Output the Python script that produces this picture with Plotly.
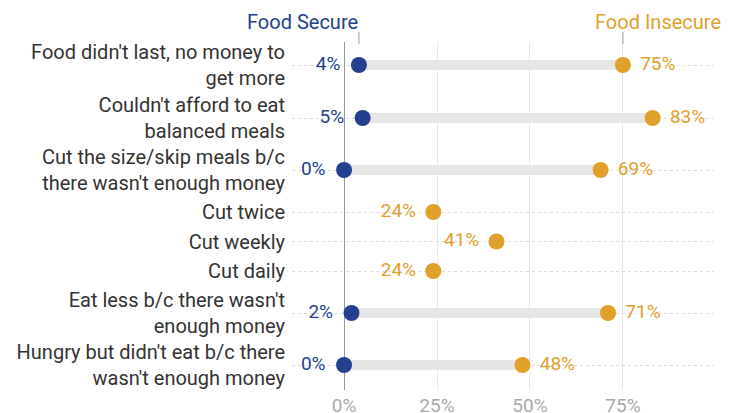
import plotly.graph_objects as go

# ---- data ----
labels = [
    "Food didn't last, no money to<br>get more",
    "Couldn't afford to eat<br>balanced meals",
    "Cut the size/skip meals b/c<br>there wasn't enough money",
    "Cut twice",
    "Cut weekly",
    "Cut daily",
    "Eat less b/c there wasn't<br>enough money",
    "Hungry but didn't eat b/c there<br>wasn't enough money",
]
food_secure = [4, 5, 0, None, None, None, 2, 0]
food_insecure = [75, 83, 69, 24, 41, 24, 71, 48]
x_ticks = [0, 25, 50, 75]

# row centres (two-line labels take more room than one-line ones)
row_y = [0, 53, 105, 147, 176.5, 206, 248, 300]

BLUE = '#243f8d'
GOLD = '#e0a02a'
FONT = 'Roboto'

fig = go.Figure()

# grey connector bars between the two dots
bar_x, bar_y = [], []
for s, i, y in zip(food_secure, food_insecure, row_y):
    if s is None:
        continue
    bar_x += [s, i, None]
    bar_y += [y, y, None]
fig.add_trace(go.Scatter(x=bar_x, y=bar_y, mode='lines', hoverinfo='skip',
                         line=dict(color='#e6e6e6', width=10), showlegend=False))

sec_y = [y for s, y in zip(food_secure, row_y) if s is not None]
sec_x = [s for s in food_secure if s is not None]
ins_pos = ['middle right' if s is not None else 'middle left' for s in food_secure]

# dots
fig.add_trace(go.Scatter(x=sec_x, y=sec_y, mode='markers', name='Food Secure',
                         marker=dict(color=BLUE, size=16), cliponaxis=False, showlegend=False))
fig.add_trace(go.Scatter(x=food_insecure, y=row_y, mode='markers', name='Food Insecure',
                         marker=dict(color=GOLD, size=16), cliponaxis=False, showlegend=False))

# value labels (transparent larger marker just to push the text off the dot)
fig.add_trace(go.Scatter(x=sec_x, y=sec_y, mode='markers+text', hoverinfo='skip',
                         text=[f'{v}%' for v in sec_x], textposition='middle left',
                         textfont=dict(color=BLUE, size=19, family=FONT),
                         marker=dict(color='rgba(0,0,0,0)', size=28), cliponaxis=False, showlegend=False))
fig.add_trace(go.Scatter(x=food_insecure, y=row_y, mode='markers+text', hoverinfo='skip',
                         text=[f'{v}%' for v in food_insecure], textposition=ins_pos,
                         textfont=dict(color=GOLD, size=19, family=FONT),
                         marker=dict(color='rgba(0,0,0,0)', size=26), cliponaxis=False, showlegend=False))

# header labels with small tick marks
fig.add_annotation(x=food_secure[0], y=1.0575, xref='x', yref='paper', text='Food Secure',
                   showarrow=False, xanchor='right', yanchor='middle', xshift=1,
                   font=dict(color=BLUE, size=20, family=FONT))
fig.add_annotation(x=food_insecure[0], y=1.0575, xref='x', yref='paper', text='Food Insecure',
                   showarrow=False, xanchor='left', yanchor='middle', xshift=-30,
                   font=dict(color=GOLD, size=20, family=FONT))
for xv in [food_secure[0], food_insecure[0]]:
    fig.add_shape(type='line', xref='x', yref='paper', x0=xv, x1=xv, y0=0.994, y1=1.029,
                  line=dict(color='#999999', width=1))

fig.update_layout(width=736, height=413, margin=dict(l=284, r=30, t=34, b=31),
                  paper_bgcolor='white', plot_bgcolor='white',
                  font=dict(family=FONT, size=20, color='#333333'))
fig.update_xaxes(range=[-14, 99.5], tickvals=x_ticks, ticktext=[f'{v}%' for v in x_ticks],
                 showgrid=True, gridcolor='#e8e8e8', gridwidth=1,
                 zeroline=True, zerolinecolor='#999999', zerolinewidth=1,
                 ticklabelstandoff=2, automargin=False,
                 tickfont=dict(color='#aaaaaa', size=19, family=FONT), showline=False)
fig.update_yaxes(range=[325, -23], tickvals=row_y, ticktext=labels,
                 showgrid=True, gridcolor='#dddddd', griddash='dot', gridwidth=1,
                 zeroline=False, showline=False, ticklabelstandoff=6, automargin=False,
                 tickfont=dict(color='#333333', size=20, family=FONT))

fig.write_html("out.html")
